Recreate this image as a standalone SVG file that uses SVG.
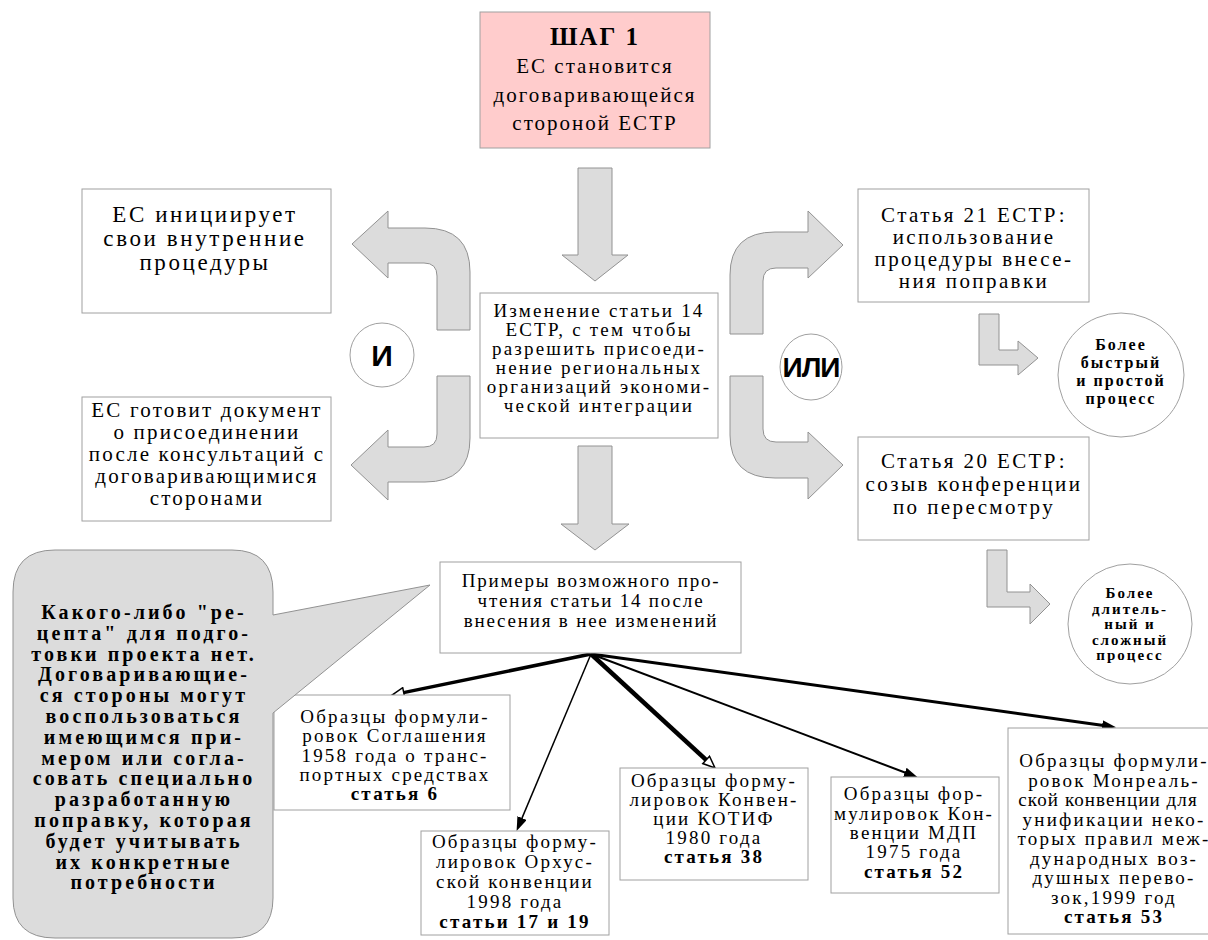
<svg xmlns="http://www.w3.org/2000/svg" width="1208" height="940" viewBox="0 0 1208 940">
<style>
.box{fill:#fff;stroke:#a0a0a0;stroke-width:1}
.step{fill:#ffcccc;stroke:#a0a0a0;stroke-width:1}
.blk{fill:#dcdcdc;stroke:#929292;stroke-width:1}
.circ{fill:#fff;stroke:#a0a0a0;stroke-width:1}
.t{font-family:'Liberation Serif','Times New Roman',serif;text-anchor:middle;fill:#000}
.b{font-weight:bold}
.s{font-family:'Liberation Sans',Arial,sans-serif;font-weight:bold;text-anchor:middle;fill:#000}
.ln{stroke:#000;fill:none}
</style>
<defs>
<marker id="hf" viewBox="0 0 14 10" refX="5" refY="5" markerWidth="14" markerHeight="10" markerUnits="userSpaceOnUse" orient="auto"><path d="M0,0 L14,5 L0,10 Z" fill="#000"/></marker>
<marker id="ho" viewBox="-1 -1 14 12" refX="4" refY="5" markerWidth="14" markerHeight="12" markerUnits="userSpaceOnUse" orient="auto"><path d="M0,0 L12,5 L0,10 Z" fill="#fff" stroke="#000" stroke-width="1.5"/></marker>
</defs>

<g id="connectors">
<path class="blk" d="M578,168 L612,168 L612,255 L628,255 L595,281 L562,255 L578,255 Z"/>
<path class="blk" d="M578,446 L612,446 L612,524 L629,524 L595,550 L561,524 L578,524 Z"/>
<path class="blk" d="M730,334 L730,275 Q730,232 775,232 L808,232 L808,211 L843,245 L808,278 L808,268 L776,268 Q763,268 763,281 L763,334 Z"/>
<path class="blk" d="M730,376 L730,435 Q730,478 775,478 L808,478 L808,499 L843,465 L808,432 L808,442 L776,442 Q763,442 763,429 L763,376 Z"/>
<path class="blk" d="M470,330 L470,272 Q470,228 425,228 L388,228 L388,211 L352,244 L388,278 L388,263 L424,263 Q437,263 437,276 L437,330 Z"/>
<path class="blk" d="M470,376 L470,438 Q470,482 425,482 L388,482 L388,500 L351,465 L388,430 L388,447 L424,447 Q437,447 437,434 L437,376 Z"/>
<path class="blk" d="M979,314 L979,365 L1018,365 L1018,375 L1038,358 L1018,341 L1018,350 L999,350 L999,314 Z"/>
<path class="blk" d="M987,550 L987,607 L1030,607 L1030,624 L1050,604 L1030,584 L1030,592 L1007,592 L1007,550 Z"/>
<line class="ln" x1="591" y1="654" x2="399.8" y2="693.4" stroke-width="3.5" marker-end="url(#ho)"/>
<line class="ln" x1="591" y1="654" x2="520.1" y2="822.6" stroke-width="1.5" marker-end="url(#hf)"/>
<line class="ln" x1="591" y1="654" x2="709.1" y2="762.6" stroke-width="4.5" marker-end="url(#ho)"/>
<line class="ln" x1="591" y1="654" x2="909.5" y2="774.2" stroke-width="2" marker-end="url(#hf)"/>
<line class="ln" x1="591" y1="654" x2="1107.1" y2="725.9" stroke-width="3" marker-end="url(#hf)"/>
</g>

<g id="step1">
<rect class="step" x="480" y="12" width="230" height="136"/>
<text class="t b" x="595" y="45" font-size="25" letter-spacing="2">ШАГ 1</text>
<text class="t" font-size="21" letter-spacing="2"><tspan x="595" y="73">ЕС становится</tspan><tspan x="595" y="102">договаривающейся</tspan><tspan x="595" y="130">стороной ЕСТР</tspan></text>
</g>

<g id="change14">
<rect class="box" x="480" y="293" width="238" height="145"/>
<text class="t" font-size="19" letter-spacing="2.2"><tspan x="599" y="317">Изменение статьи 14</tspan><tspan x="599" y="336">ЕСТР, с тем чтобы</tspan><tspan x="599" y="355">разрешить присоеди-</tspan><tspan x="599" y="374">нение региональных</tspan><tspan x="599" y="393">организаций экономи-</tspan><tspan x="599" y="412">ческой интеграции</tspan></text>
</g>

<g id="internal">
<rect class="box" x="82" y="189" width="249" height="124"/>
<text class="t" font-size="23" letter-spacing="2.6"><tspan x="205" y="222">ЕС инициирует</tspan><tspan x="205" y="246">свои внутренние</tspan><tspan x="205" y="270">процедуры</tspan></text>
</g>

<g id="accession">
<rect class="box" x="82" y="397" width="249" height="124"/>
<text class="t" font-size="21" letter-spacing="2.2"><tspan x="207" y="417">ЕС готовит документ</tspan><tspan x="207" y="439">о присоединении</tspan><tspan x="207" y="461">после консультаций с</tspan><tspan x="207" y="483">договаривающимися</tspan><tspan x="207" y="505">сторонами</tspan></text>
</g>

<g id="and">
<ellipse class="circ" cx="382" cy="355" rx="32" ry="32"/>
<text class="s" x="382" y="366" font-size="30">И</text>
</g>

<g id="or">
<ellipse class="circ" cx="811" cy="367" rx="31" ry="33"/>
<text class="s" x="811" y="377" font-size="28" letter-spacing="-1">ИЛИ</text>
</g>

<g id="art21">
<rect class="box" x="858" y="189" width="231" height="113"/>
<text class="t" font-size="21" letter-spacing="2.4"><tspan x="974" y="222">Статья 21 ЕСТР:</tspan><tspan x="974" y="244">использование</tspan><tspan x="974" y="266">процедуры внесе-</tspan><tspan x="974" y="288">ния поправки</tspan></text>
</g>

<g id="art20">
<rect class="box" x="858" y="437" width="231" height="103"/>
<text class="t" font-size="21" letter-spacing="2.4"><tspan x="974" y="468">Статья 20 ЕСТР:</tspan><tspan x="974" y="491">созыв конференции</tspan><tspan x="974" y="514">по пересмотру</tspan></text>
</g>

<g id="fast">
<ellipse class="circ" cx="1121" cy="375" rx="63" ry="62"/>
<text class="t b" font-size="16" letter-spacing="2"><tspan x="1121" y="350">Более</tspan><tspan x="1121" y="368">быстрый</tspan><tspan x="1121" y="386">и простой</tspan><tspan x="1121" y="404">процесс</tspan></text>
</g>

<g id="slow">
<ellipse class="circ" cx="1130" cy="624" rx="62" ry="60"/>
<text class="t b" font-size="15" letter-spacing="2"><tspan x="1130" y="598">Более</tspan><tspan x="1130" y="614">длитель-</tspan><tspan x="1130" y="629">ный и</tspan><tspan x="1130" y="645">сложный</tspan><tspan x="1130" y="660">процесс</tspan></text>
</g>

<g id="examples">
<rect class="box" x="440" y="562" width="301" height="91"/>
<text class="t" font-size="19" letter-spacing="1.8"><tspan x="591" y="587">Примеры возможного про-</tspan><tspan x="591" y="607">чтения статьи 14 после</tspan><tspan x="591" y="627">внесения в нее изменений</tspan></text>
</g>

<g id="agreement1958">
<rect class="box" x="274" y="695" width="236" height="115"/>
<text class="t" font-size="19" letter-spacing="2.2"><tspan x="395" y="723">Образцы формули-</tspan><tspan x="395" y="742">ровок Соглашения</tspan><tspan x="395" y="762">1958 года о транс-</tspan><tspan x="395" y="781">портных средствах</tspan><tspan x="395" y="800" font-weight="bold">статья 6</tspan></text>
</g>

<g id="aarhus">
<rect class="box" x="421" y="831" width="188" height="104"/>
<text class="t" font-size="19" letter-spacing="2.2"><tspan x="515" y="848">Образцы форму-</tspan><tspan x="515" y="868">лировок Орхус-</tspan><tspan x="515" y="888">ской конвенции</tspan><tspan x="515" y="908">1998 года</tspan><tspan x="515" y="928" font-weight="bold">статьи 17 и 19</tspan></text>
</g>

<g id="cotif">
<rect class="box" x="620" y="768" width="188" height="112"/>
<text class="t" font-size="19" letter-spacing="2.2"><tspan x="714" y="787">Образцы форму-</tspan><tspan x="714" y="806">лировок Конвен-</tspan><tspan x="714" y="825">ции КОТИФ</tspan><tspan x="714" y="844">1980 года</tspan><tspan x="714" y="863" font-weight="bold">статья 38</tspan></text>
</g>

<g id="tir">
<rect class="box" x="831" y="777" width="168" height="116"/>
<text class="t" font-size="19" letter-spacing="2.2"><tspan x="914" y="800">Образцы фор-</tspan><tspan x="914" y="820">мулировок Кон-</tspan><tspan x="914" y="839">венции МДП</tspan><tspan x="914" y="858">1975 года</tspan><tspan x="914" y="878" font-weight="bold">статья 52</tspan></text>
</g>

<g id="montreal">
<rect class="box" x="1008" y="728" width="212" height="206"/>
<text class="t" font-size="19" letter-spacing="2.2"><tspan x="1114" y="767">Образцы формули-</tspan><tspan x="1114" y="787">ровок Монреаль-</tspan><tspan x="1108" y="806" letter-spacing="1.1">ской конвенции для</tspan><tspan x="1114" y="826">унификации неко-</tspan><tspan x="1114" y="845">торых правил меж-</tspan><tspan x="1114" y="865">дународных воз-</tspan><tspan x="1114" y="884">душных перево-</tspan><tspan x="1114" y="904">зок,1999 год</tspan><tspan x="1114" y="923" font-weight="bold">статья 53</tspan></text>
</g>

<g id="note">
<path class="blk" d="M55,550 L232,550 Q273,550 273,592 L273,615 L430,585 L273,713 L273,898 Q273,938 232,938 L55,938 Q13,938 13,898 L13,592 Q13,550 55,550 Z"/>
<text class="t b" font-size="20" letter-spacing="3.1"><tspan x="144" y="619">Какого-либо "ре-</tspan><tspan x="144" y="640">цепта" для подго-</tspan><tspan x="144" y="661">товки проекта нет.</tspan><tspan x="144" y="681">Договаривающие-</tspan><tspan x="144" y="702">ся стороны могут</tspan><tspan x="144" y="723">воспользоваться</tspan><tspan x="144" y="744">имеющимся при-</tspan><tspan x="144" y="765">мером или согла-</tspan><tspan x="144" y="785">совать специально</tspan><tspan x="144" y="806">разработанную</tspan><tspan x="144" y="827">поправку, которая</tspan><tspan x="144" y="848">будет учитывать</tspan><tspan x="144" y="869">их конкретные</tspan><tspan x="144" y="889">потребности</tspan></text>
</g>
</svg>
